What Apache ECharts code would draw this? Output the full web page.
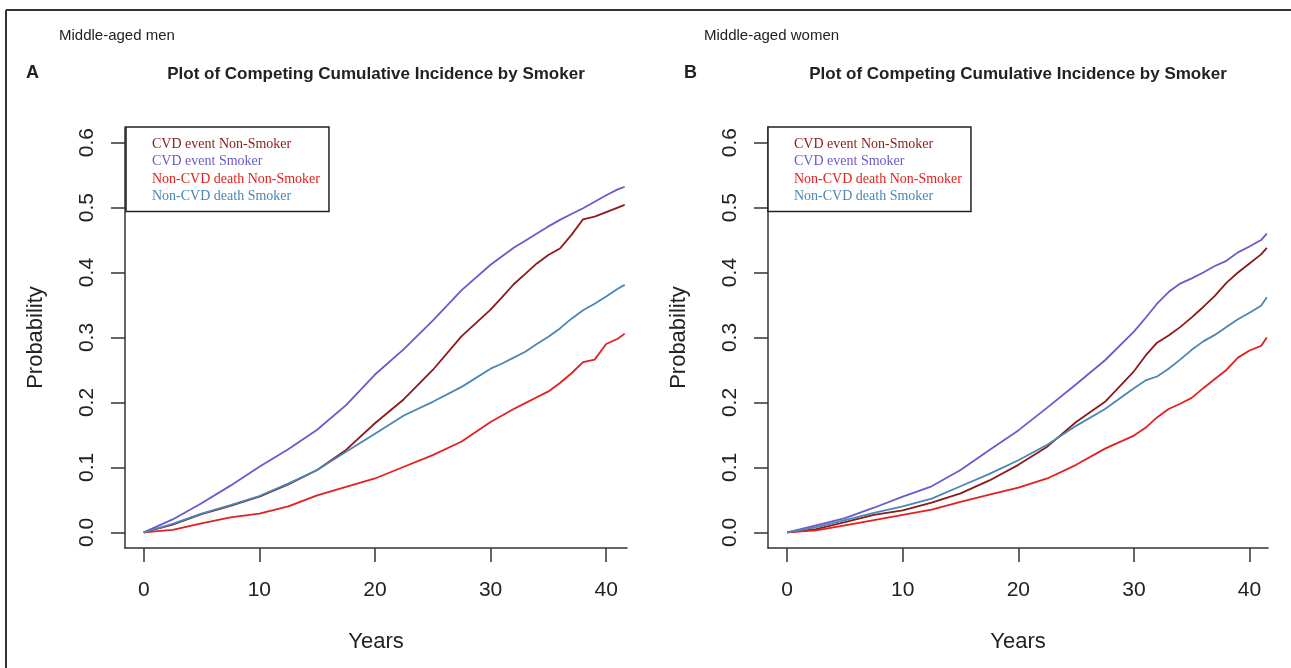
<!DOCTYPE html>
<html>
<head>
    <meta charset="utf-8">
    <title>Competing Cumulative Incidence by Smoker</title>
    <script src="https://cdn.jsdelivr.net/npm/echarts@6/dist/echarts.min.js"></script>
    <style>
        body { margin: 0; background: #fff; }
        #main { width: 1291px; height: 668px; }
    </style>
</head>
<body>
    <div id="main"></div>
    <script>
        // series names (legend order)
        var names = ['CVD event Non-Smoker', 'CVD event Smoker', 'Non-CVD death Non-Smoker', 'Non-CVD death Smoker'];
        var colors = ['#8b1a1a', '#6a5acd', '#e3201e', '#4a86b6'];

        var xTicks = [0, 10, 20, 30, 40];
        var yTicks = [0, 0.1, 0.2, 0.3, 0.4, 0.5, 0.6];

        // A: middle-aged men
        var yearsA = [0, 2.5, 5, 7.5, 10, 12.5, 15, 17.5, 20, 22.5, 25, 27.5, 30, 31, 32, 33, 34, 35, 36, 37, 38, 39, 40, 41, 41.6];
        var cvdNonSmokerA = [0, 0.012, 0.028, 0.041, 0.055, 0.074, 0.096, 0.127, 0.168, 0.205, 0.250, 0.302, 0.343, 0.362, 0.382, 0.398, 0.414, 0.427, 0.437, 0.458, 0.482, 0.486, 0.493, 0.500, 0.504];
        var cvdSmokerA = [0, 0.020, 0.045, 0.072, 0.101, 0.128, 0.158, 0.196, 0.243, 0.282, 0.326, 0.373, 0.412, 0.425, 0.438, 0.449, 0.460, 0.471, 0.481, 0.490, 0.499, 0.509, 0.519, 0.528, 0.532];
        var nonCvdNonSmokerA = [0, 0.004, 0.014, 0.023, 0.029, 0.040, 0.057, 0.070, 0.083, 0.101, 0.119, 0.140, 0.170, 0.180, 0.190, 0.199, 0.208, 0.217, 0.230, 0.245, 0.262, 0.266, 0.290, 0.298, 0.306];
        var nonCvdSmokerA = [0, 0.013, 0.029, 0.042, 0.056, 0.075, 0.096, 0.124, 0.152, 0.180, 0.201, 0.224, 0.252, 0.260, 0.269, 0.278, 0.290, 0.301, 0.314, 0.329, 0.342, 0.352, 0.363, 0.375, 0.381];

        // B: middle-aged women
        var yearsB = [0, 2.5, 5, 7.5, 10, 12.5, 15, 17.5, 20, 22.5, 25, 27.5, 30, 31, 32, 33, 34, 35, 36, 37, 38, 39, 40, 41, 41.5];
        var cvdNonSmokerB = [0, 0.005, 0.016, 0.027, 0.034, 0.046, 0.060, 0.080, 0.104, 0.132, 0.170, 0.201, 0.248, 0.272, 0.292, 0.303, 0.316, 0.331, 0.347, 0.364, 0.384, 0.400, 0.414, 0.428, 0.438];
        var cvdSmokerB = [0, 0.011, 0.022, 0.038, 0.055, 0.071, 0.096, 0.127, 0.157, 0.192, 0.228, 0.265, 0.309, 0.330, 0.352, 0.370, 0.383, 0.391, 0.400, 0.410, 0.418, 0.431, 0.440, 0.450, 0.460];
        var nonCvdNonSmokerB = [0, 0.003, 0.011, 0.019, 0.027, 0.035, 0.047, 0.058, 0.069, 0.083, 0.104, 0.129, 0.149, 0.161, 0.177, 0.190, 0.198, 0.207, 0.222, 0.236, 0.250, 0.269, 0.280, 0.287, 0.300];
        var nonCvdSmokerB = [0, 0.008, 0.019, 0.030, 0.040, 0.052, 0.071, 0.090, 0.111, 0.135, 0.164, 0.190, 0.222, 0.234, 0.240, 0.252, 0.266, 0.281, 0.294, 0.304, 0.316, 0.328, 0.338, 0.349, 0.362];

        var sans = "'Liberation Sans', Arial, sans-serif";
        var serif = "'Liberation Serif', 'Times New Roman', serif";
        var ink = '#222';

        function pairs(xs, ys) {
            return xs.map(function (x, i) { return [x, ys[i]]; });
        }

        function xAxisFor(idx, min, max) {
            return {
                gridIndex: idx, type: 'value', min: min, max: max,
                name: 'Years', nameLocation: 'middle', nameGap: 83,
                nameTextStyle: { fontFamily: sans, fontSize: 22, color: ink },
                axisLine: { show: true, onZero: false, lineStyle: { color: '#333', width: 1.5 } },
                axisTick: { show: true, length: 14, customValues: xTicks, lineStyle: { color: '#333', width: 1.5 } },
                axisLabel: { customValues: xTicks, margin: 32, fontFamily: sans, fontSize: 21, color: ink },
                splitLine: { show: false }
            };
        }

        function yAxisFor(idx) {
            return {
                gridIndex: idx, type: 'value', min: -0.024, max: 0.624,
                name: 'Probability', nameLocation: 'middle', nameGap: 78,
                nameTextStyle: { fontFamily: sans, fontSize: 22, color: ink },
                axisLine: { show: true, onZero: false, lineStyle: { color: '#333', width: 1.5 } },
                axisTick: { show: true, length: 14, customValues: yTicks, lineStyle: { color: '#333', width: 1.5 } },
                axisLabel: {
                    customValues: yTicks, rotate: 90, margin: 27,
                    fontFamily: sans, fontSize: 21, color: ink,
                    formatter: function (v) { return v.toFixed(1); }
                },
                splitLine: { show: false }
            };
        }

        function legendFor(left) {
            return {
                orient: 'vertical', left: left, top: 127,
                icon: 'none', itemWidth: 0, itemHeight: 14, itemGap: 3.5,
                padding: [10, 9, 8, 21],
                borderColor: '#222', borderWidth: 1.5, backgroundColor: '#fff',
                selectedMode: false,
                data: names.map(function (n, i) {
                    return { name: n, textStyle: { color: colors[i] } };
                }),
                textStyle: { fontFamily: serif, fontSize: 14 }
            };
        }

        function lineSeries(i, idx, xs, ys) {
            return {
                name: names[i], type: 'line', xAxisIndex: idx, yAxisIndex: idx,
                data: pairs(xs, ys), showSymbol: false, symbol: 'none',
                lineStyle: { color: colors[i], width: 1.8 },
                itemStyle: { color: colors[i] }
            };
        }

        var myChart = echarts.init(document.getElementById('main'));
        myChart.setOption({
            animation: false,
            backgroundColor: '#fff',
            title: [
                { text: 'Middle-aged men', left: 59, top: 28, padding: 0, textStyle: { fontFamily: sans, fontSize: 15, fontWeight: 'normal', color: ink } },
                { text: 'A', left: 26, top: 64, padding: 0, textStyle: { fontFamily: sans, fontSize: 18, fontWeight: 'bold', color: ink } },
                { text: 'Plot of Competing Cumulative Incidence by Smoker', left: 376, textAlign: 'center', top: 66, padding: 0, textStyle: { fontFamily: sans, fontSize: 17, fontWeight: 'bold', color: ink } },
                { text: 'Middle-aged women', left: 704, top: 28, padding: 0, textStyle: { fontFamily: sans, fontSize: 15, fontWeight: 'normal', color: ink } },
                { text: 'B', left: 684, top: 64, padding: 0, textStyle: { fontFamily: sans, fontSize: 18, fontWeight: 'bold', color: ink } },
                { text: 'Plot of Competing Cumulative Incidence by Smoker', left: 1018, textAlign: 'center', top: 66, padding: 0, textStyle: { fontFamily: sans, fontSize: 17, fontWeight: 'bold', color: ink } }
            ],
            legend: [legendFor(126), legendFor(768)],
            grid: [
                { left: 125, top: 127, width: 502, height: 421 },
                { left: 768, top: 127, width: 500, height: 421 }
            ],
            xAxis: [xAxisFor(0, -1.62, 41.8), xAxisFor(1, -1.66, 41.6)],
            yAxis: [yAxisFor(0), yAxisFor(1)],
            series: [
                lineSeries(0, 0, yearsA, cvdNonSmokerA),
                lineSeries(1, 0, yearsA, cvdSmokerA),
                lineSeries(2, 0, yearsA, nonCvdNonSmokerA),
                lineSeries(3, 0, yearsA, nonCvdSmokerA),
                lineSeries(0, 1, yearsB, cvdNonSmokerB),
                lineSeries(1, 1, yearsB, cvdSmokerB),
                lineSeries(2, 1, yearsB, nonCvdNonSmokerB),
                lineSeries(3, 1, yearsB, nonCvdSmokerB)
            ],
            graphic: [
                { type: 'line', shape: { x1: 6, y1: 10, x2: 1291, y2: 10 }, style: { stroke: '#333', lineWidth: 2 } },
                { type: 'line', shape: { x1: 6, y1: 10, x2: 6, y2: 668 }, style: { stroke: '#333', lineWidth: 2 } }
            ]
        });
    </script>
</body>
</html>
